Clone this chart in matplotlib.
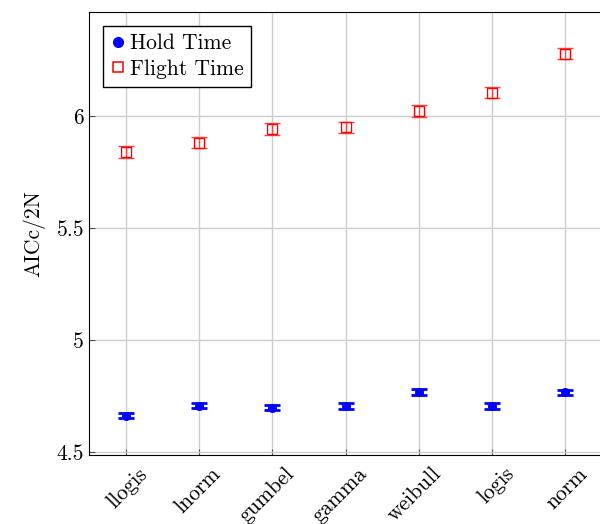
import matplotlib
matplotlib.use("Agg")
import matplotlib.pyplot as plt
from matplotlib.lines import Line2D
from matplotlib.transforms import ScaledTranslation

plt.rcParams['font.family'] = 'serif'
plt.rcParams['font.serif'] = ['cmr10', 'DejaVu Serif']
plt.rcParams['mathtext.fontset'] = 'cm'
plt.rcParams['axes.formatter.use_mathtext'] = True

dists = ['llogis', 'lnorm', 'gumbel', 'gamma', 'weibull', 'logis', 'norm']
hold = [4.663, 4.707, 4.698, 4.706, 4.768, 4.705, 4.766]
hold_err = [0.012, 0.012, 0.012, 0.012, 0.012, 0.012, 0.012]
flight = [5.839, 5.880, 5.942, 5.950, 6.022, 6.103, 6.278]
flight_err = [0.025, 0.025, 0.025, 0.025, 0.025, 0.025, 0.025]

fig = plt.figure(figsize=(6, 5.24), dpi=100)
ax = fig.add_axes([89/600, 1-455/524, 513/600, 443/524])

x = list(range(len(dists)))
ax.errorbar(x, hold, yerr=hold_err, fmt='o', color='blue', ms=5.5,
            capsize=6, capthick=2, elinewidth=1.5, zorder=3)
ax.errorbar(x, flight, yerr=flight_err, fmt='s', color='red', mfc='none',
            ms=6.5, mew=1.0, capsize=6, capthick=2, elinewidth=1.0,
            ecolor='#ff4444', zorder=3)

ax.set_xlim(-0.5, 6.5)
ax.set_ylim(4.487, 6.464)
ax.set_yticks([4.5, 5, 5.5, 6])
ax.set_yticklabels(['4.5', '5', '5.5', '6'])
ax.set_xticks(x)
ax.set_xticklabels(dists, rotation=45, ha='right', rotation_mode='anchor')
ax.tick_params(direction='in', labelsize=15.5, color='#555555', length=4)
ax.tick_params(axis='x', pad=10)
off = ScaledTranslation(12/100, 5/100, fig.dpi_scale_trans)
for lab in ax.get_xticklabels():
    lab.set_transform(lab.get_transform() + off)
ax.grid(True, color='#cccccc', lw=1)
ax.set_axisbelow(True)
ax.set_ylabel('AICc/2N', fontsize=15.5, labelpad=8)

handles = [Line2D([], [], ls='none', marker='o', color='blue', ms=7),
           Line2D([], [], ls='none', marker='s', color='red', mfc='none', ms=7, mew=1.1)]
leg = ax.legend(handles, ['Hold Time', 'Flight Time'], loc='upper left', fontsize=15.5,
                fancybox=False, edgecolor='black', framealpha=1,
                handletextpad=0.2, handlelength=0.7, borderaxespad=0.65,
                borderpad=0.35, labelspacing=0.3)
leg.get_frame().set_linewidth(1)

fig.savefig('out.png', dpi=100)
